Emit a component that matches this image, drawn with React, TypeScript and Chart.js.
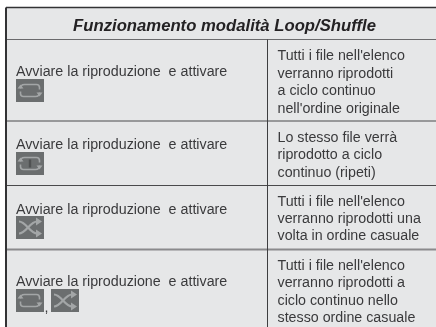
import React, { useEffect, useRef } from "react";
import { Chart, registerables } from "chart.js";

Chart.register(...registerables);

const tableTitle = "Funzionamento modalità Loop/Shuffle";
const actionText = "Avviare la riproduzione  e attivare";
const rowIcons = [["loop"], ["repeat"], ["shuffle"], ["loop", "shuffle"]];
const rowDescriptions = [
  ["Tutti i file nell'elenco", "verranno riprodotti", "a ciclo continuo", "nell'ordine originale"],
  ["Lo stesso file verrà", "riprodotto a ciclo", "continuo (ripeti)"],
  ["Tutti i file nell'elenco", "verranno riprodotti una", "volta in ordine casuale"],
  ["Tutti i file nell'elenco", "verranno riprodotti a", "ciclo continuo nello", "stesso ordine casuale"],
];

// Layout only, in the scale units of the (hidden) axes.
const L = {
  left: 6, top: 7.5, right: 436, bottom: 327, split: 267.5, titleBottom: 39.5,
  rowBottoms: [121, 185.5, 249.5, 327],
  actionX: 16, actionBase: [76, 148.5, 214, 285.5],
  iconY: [79, 152, 216, 289], iconW: 28, iconH: 23, icon2X: 51,
  descX: 277.5, descBase: [[60, 77.5, 95, 112.5], [141.5, 159, 177], [205.5, 223, 240], [269.5, 287, 305, 322]],
  titleBase: 30.5,
};

const FONT = '"Liberation Sans", Arial, sans-serif';
const INK = "#3a3a3c";

function drawIcon(ctx: CanvasRenderingContext2D, kind: string, x: number, y: number, w: number, h: number) {
  ctx.save();
  ctx.fillStyle = "#6b6e6f";
  ctx.fillRect(x, y, w, h);
  ctx.strokeStyle = "#a3a6a7";
  ctx.fillStyle = "#a3a6a7";
  ctx.lineWidth = 1.6;
  const l = x + 4.5, r = x + w - 4.5, t = y + 5.5, b = y + h - 5.5;
  if (kind === "loop" || kind === "repeat") {
    ctx.beginPath();
    ctx.moveTo(l, y + h / 2 - 2);
    ctx.quadraticCurveTo(l, t, l + 4, t);
    ctx.lineTo(r - 3, t);
    ctx.quadraticCurveTo(r, t, r, t + 3);
    ctx.lineTo(r, y + h / 2 - 1);
    ctx.moveTo(r, y + h / 2 + 2);
    ctx.quadraticCurveTo(r, b, r - 4, b);
    ctx.lineTo(l + 3, b);
    ctx.quadraticCurveTo(l, b, l, b - 3);
    ctx.lineTo(l, y + h / 2 + 1);
    ctx.stroke();
    ctx.beginPath();
    ctx.moveTo(l - 3, y + h / 2 - 2);
    ctx.lineTo(l + 3, y + h / 2 - 2);
    ctx.lineTo(l, y + h / 2 - 6);
    ctx.closePath();
    ctx.moveTo(r - 3, y + h / 2 + 2);
    ctx.lineTo(r + 3, y + h / 2 + 2);
    ctx.lineTo(r, y + h / 2 + 6);
    ctx.closePath();
    ctx.fill();
    if (kind === "repeat") {
      ctx.beginPath();
      ctx.moveTo(x + w / 2, t + 2);
      ctx.lineTo(x + w / 2, b - 2);
      ctx.lineWidth = 2.4;
      ctx.strokeStyle = "#4f5152";
      ctx.stroke();
    }
  } else {
    const s = x + 3, e = x + w - 7;
    ctx.lineWidth = 2.2;
    ctx.beginPath();
    ctx.moveTo(s, t);
    ctx.bezierCurveTo(x + 10, t, x + 14, b, e, b);
    ctx.moveTo(s, b);
    ctx.bezierCurveTo(x + 10, b, x + 14, t, e, t);
    ctx.stroke();
    ctx.beginPath();
    ctx.moveTo(e - 1, t - 4);
    ctx.lineTo(e + 5, t);
    ctx.lineTo(e - 1, t + 4);
    ctx.closePath();
    ctx.moveTo(e - 1, b - 4);
    ctx.lineTo(e + 5, b);
    ctx.lineTo(e - 1, b + 4);
    ctx.closePath();
    ctx.fill();
  }
  ctx.restore();
}

const tablePlugin = {
  id: "table",
  beforeDatasetsDraw(chart: any) {
    const { ctx, scales } = chart;
    const X = (v: number) => scales.x.getPixelForValue(v);
    const Y = (v: number) => scales.y.getPixelForValue(v);
    const hline = (y: number, x0: number, x1: number, c: string, w: number) => {
      ctx.strokeStyle = c;
      ctx.lineWidth = w;
      ctx.beginPath();
      ctx.moveTo(X(x0), Y(y));
      ctx.lineTo(X(x1), Y(y));
      ctx.stroke();
    };
    ctx.save();
    ctx.fillStyle = "#e6e7e8";
    ctx.fillRect(X(L.left), Y(L.top), X(L.right) - X(L.left), Y(L.bottom) - Y(L.top));

    hline(L.titleBottom, L.left, L.right, "#6a6a6c", 1);
    L.rowBottoms.slice(0, 2).forEach((y) => hline(y, L.left, L.right, "#4a4a4c", 1));
    hline(L.rowBottoms[2], L.left, L.right, "#8a8a8c", 2);
    hline(L.top, L.left, L.right, "#333335", 1.6);

    ctx.strokeStyle = "#3e3e40";
    ctx.lineWidth = 1;
    ctx.beginPath();
    ctx.moveTo(X(L.split), Y(L.titleBottom));
    ctx.lineTo(X(L.split), Y(L.bottom));
    ctx.stroke();
    ctx.lineWidth = 2;
    ctx.strokeStyle = "#333335";
    ctx.beginPath();
    ctx.moveTo(X(L.left), Y(L.top));
    ctx.lineTo(X(L.left), Y(L.bottom));
    ctx.stroke();

    ctx.textBaseline = "alphabetic";
    ctx.fillStyle = "#242224";
    ctx.font = `italic bold 16.7px ${FONT}`;
    ctx.textAlign = "center";
    ctx.fillText(tableTitle, X(224.5), Y(L.titleBase));

    ctx.textAlign = "left";
    ctx.fillStyle = INK;
    ctx.font = `14.25px ${FONT}`;
    rowIcons.forEach((icons, i) => {
      ctx.fillText(actionText, X(L.actionX), Y(L.actionBase[i]));
      icons.forEach((kind, k) => {
        const ix = k === 0 ? L.actionX : L.icon2X;
        drawIcon(ctx, kind, X(ix), Y(L.iconY[i]), L.iconW, L.iconH);
      });
      if (icons.length > 1) ctx.fillText(",", X(L.actionX + L.iconW + 0.5), Y(L.iconY[i] + L.iconH));
    });
    ctx.font = `14.25px ${FONT}`;
    rowDescriptions.forEach((lines, i) => {
      lines.forEach((t, j) => ctx.fillText(t, X(L.descX), Y(L.descBase[i][j])));
    });
    ctx.restore();
  },
};

export default function App() {
  const ref = useRef<HTMLCanvasElement>(null);
  useEffect(() => {
    document.body.style.margin = "0";
    document.body.style.background = "#ffffff";
    const chart = new Chart(ref.current!, {
      type: "scatter",
      data: { datasets: [{ data: [], pointRadius: 0 }] },
      options: {
        animation: false,
        responsive: false,
        layout: { padding: 0 },
        plugins: { legend: { display: false }, tooltip: { enabled: false }, title: { display: false } },
        scales: {
          x: { type: "linear", min: 0, max: 436, display: false },
          y: { type: "linear", min: 0, max: 327, reverse: true, display: false },
        },
      },
      plugins: [tablePlugin],
    } as any);
    return () => chart.destroy();
  }, []);
  return <canvas ref={ref} width={436} height={327} style={{ display: "block", filter: "blur(0.35px)" }} />;
}
